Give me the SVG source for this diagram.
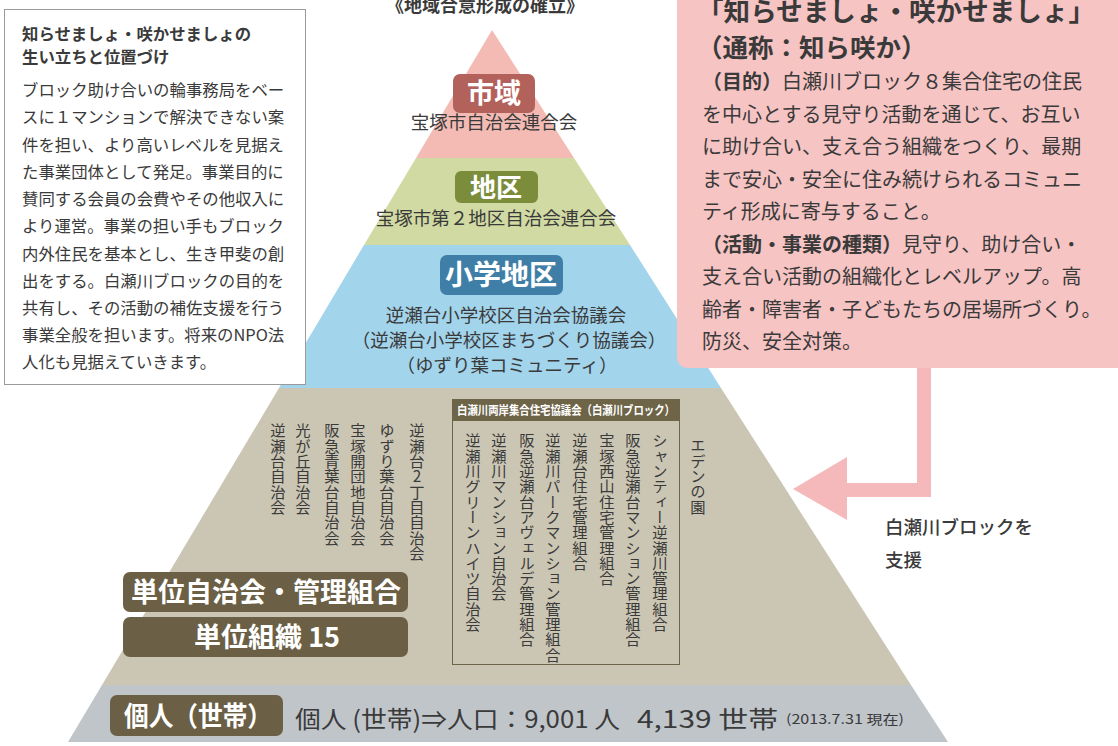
<svg xmlns="http://www.w3.org/2000/svg" width="1118" height="746" viewBox="0 0 1118 746">
<style>
text{font-family:"Noto Sans CJK JP","Noto Sans",sans-serif;fill:#3a3a3a}
.b{font-weight:bold}
.w{fill:#ffffff;font-weight:bold}
.lbl{font-size:18.5px;text-anchor:middle}
.vt{font-size:15.3px;writing-mode:vertical-rl;text-orientation:upright}
.lb{font-size:16.4px}
.rb{font-size:20px}
</style>
<rect x="0" y="0" width="1118" height="746" fill="#ffffff"/>

<g id="title">
<text x="485" y="12" class="b" font-size="18" text-anchor="middle" fill="#444">《地域合意形成の確立》</text>
</g>

<g id="pyramid">
<polygon points="492,30 416,158 574,158" fill="#f3bbb3"/>
<polygon points="416,158 574,158 630,245 364,245" fill="#d1daa2"/>
<polygon points="364,245 630,245 721,388 279,388" fill="#a2d4ec"/>
<polygon points="279,388 721,388 911,685 102,685" fill="#cbc6b4"/>
<polygon points="102,685 911,685 948,742 68,742" fill="#c0c5ca"/>
</g>

<g id="shiiki">
<rect x="453" y="74" width="82" height="39" rx="7" fill="#b2615b"/>
<text x="494" y="103" class="w" font-size="27" text-anchor="middle">市域</text>
<text x="494" y="129" class="lbl">宝塚市自治会連合会</text>
</g>

<g id="chiku">
<rect x="455" y="171" width="83" height="32" rx="6" fill="#7b8c3a"/>
<text x="496" y="197" class="w" font-size="26" text-anchor="middle">地区</text>
<text x="496" y="225" class="lbl">宝塚市第２地区自治会連合会</text>
</g>

<g id="shogakku">
<rect x="440" y="255" width="123" height="40" rx="7" fill="#3f7fa7"/>
<text x="501" y="285" class="w" font-size="28" text-anchor="middle">小学地区</text>
<text x="506" y="322" class="lbl">逆瀬台小学校区自治会協議会</text>
<text x="509" y="347" class="lbl">（逆瀬台小学校区まちづくり協議会）</text>
<text x="507" y="372" class="lbl">（ゆずり葉コミュニティ）</text>
</g>

<g id="tan-left">
<text x="278" y="423" class="vt">逆瀬台自治会</text>
<text x="303" y="423" class="vt">光が丘自治会</text>
<text x="332" y="423" class="vt">阪急青葉台自治会</text>
<text x="358" y="423" class="vt">宝塚開団地自治会</text>
<text x="387" y="423" class="vt">ゆずり葉台自治会</text>
<text x="417" y="423" class="vt">逆瀬台2丁目自治会</text>
</g>

<g id="shirasegawa-block">
<rect x="452.5" y="399.5" width="227" height="265" fill="none" stroke="#6e6448" stroke-width="1"/>
<rect x="452" y="399" width="228" height="22" fill="#6e6448"/>
<text x="457" y="415" class="w" font-size="12.5" textLength="218" lengthAdjust="spacingAndGlyphs">白瀬川両岸集合住宅協議会（白瀬川ブロック）</text>
<text x="473" y="433" class="vt">逆瀬川グリーンハイツ自治会</text>
<text x="499" y="433" class="vt">逆瀬川マンション自治会</text>
<text x="527" y="433" class="vt">阪急逆瀬台アヴェルデ管理組合</text>
<text x="553" y="433" class="vt">逆瀬川パークマンション管理組合</text>
<text x="580" y="433" class="vt">逆瀬台住宅管理組合</text>
<text x="607" y="433" class="vt">宝塚西山住宅管理組合</text>
<text x="633" y="433" class="vt">阪急逆瀬台マンション管理組合</text>
<text x="660" y="433" class="vt">シャンティー逆瀬川管理組合</text>
</g>

<g id="eden">
<text x="698" y="438" class="vt" font-size="14">エデンの園</text>
</g>

<g id="tani">
<rect x="123" y="572" width="285" height="40" rx="7" fill="#6b5f45"/>
<text x="266" y="602" class="w" font-size="27" text-anchor="middle">単位自治会・管理組合</text>
<rect x="123" y="617" width="285" height="40" rx="7" fill="#6b5f45"/>
<text x="267" y="647" class="w" font-size="27" text-anchor="middle">単位組織 15</text>
</g>

<g id="kojin">
<rect x="110" y="695" width="173" height="41" rx="7" fill="#6b5f45"/>
<text x="124" y="726" class="w" font-size="27" textLength="148" lengthAdjust="spacingAndGlyphs">個人（世帯）</text>
<text x="295" y="728" font-size="24" textLength="325" lengthAdjust="spacingAndGlyphs">個人 (世帯)⇒人口：9,001 人</text>
<text x="637" y="728" font-size="24" textLength="141" lengthAdjust="spacingAndGlyphs">4,139 世帯</text>
<text x="786" y="724" font-size="13" textLength="118" lengthAdjust="spacingAndGlyphs">(2013.7.31 現在)</text>
</g>

<g id="origin-box">
<rect x="4.5" y="9.5" width="301" height="375" fill="#ffffff" stroke="#9a9a9a" stroke-width="1"/>
<text x="22" y="40" class="b" font-size="16.4">知らせましょ・咲かせましょの</text>
<text x="22" y="63" class="b" font-size="16.4">生い立ちと位置づけ</text>
<text class="lb" x="22">
<tspan x="22" y="96">ブロック助け合いの輪事務局をベー</tspan>
<tspan x="22" y="123">スに１マンションで解決できない案</tspan>
<tspan x="22" y="151">件を担い、より高いレベルを見据え</tspan>
<tspan x="22" y="178">た事業団体として発足。事業目的に</tspan>
<tspan x="22" y="205">賛同する会員の会費やその他収入に</tspan>
<tspan x="22" y="232">より運営。事業の担い手もブロック</tspan>
<tspan x="22" y="260">内外住民を基本とし、生き甲斐の創</tspan>
<tspan x="22" y="287">出をする。白瀬川ブロックの目的を</tspan>
<tspan x="22" y="314">共有し、その活動の補佐支援を行う</tspan>
<tspan x="22" y="341">事業全般を担います。将来のNPO法</tspan>
<tspan x="22" y="368">人化も見据えていきます。</tspan>
</text>
</g>

<g id="connectors">
<rect x="917" y="360" width="14" height="137" fill="#f5b9bb"/>
<rect x="845" y="483" width="86" height="14" fill="#f5b9bb"/>
<polygon points="793,489 847,457 847,520" fill="#f5b9bb"/>
</g>

<g id="support-label">
<text x="885" y="534" font-size="18.5" font-weight="500" fill="#2e2e2e">白瀬川ブロックを</text>
<text x="885" y="567" font-size="18.5" font-weight="500" fill="#2e2e2e">支援</text>
</g>

<g id="shirasaka-box">
<path d="M677,0 H1118 V368 H689 Q677,368 677,356 Z" fill="#f7c4c4"/>
<text x="697" y="21" class="b" font-size="26" textLength="398" lengthAdjust="spacingAndGlyphs">「知らせましょ・咲かせましょ」</text>
<text x="697" y="57" class="b" font-size="25.5">（通称：知ら咲か）</text>
<text class="rb">
<tspan x="702" y="89"><tspan class="b">（目的）</tspan>白瀬川ブロック８集合住宅の住民</tspan>
<tspan x="702" y="122">を中心とする見守り活動を通じて、お互い</tspan>
<tspan x="702" y="154">に助け合い、支え合う組織をつくり、最期</tspan>
<tspan x="702" y="187">まで安心・安全に住み続けられるコミュニ</tspan>
<tspan x="702" y="219">ティ形成に寄与すること。</tspan>
<tspan x="702" y="252"><tspan class="b">（活動・事業の種類）</tspan>見守り、助け合い・</tspan>
<tspan x="702" y="284">支え合い活動の組織化とレベルアップ。高</tspan>
<tspan x="702" y="317">齢者・障害者・子どもたちの居場所づくり。</tspan>
<tspan x="702" y="349">防災、安全対策。</tspan>
</text>
</g>
</svg>
